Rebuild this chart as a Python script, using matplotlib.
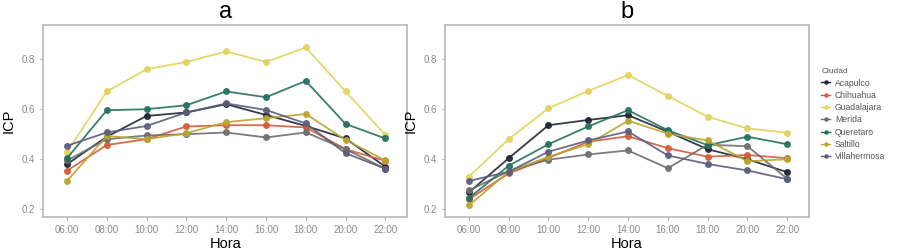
import matplotlib.pyplot as plt
from matplotlib.lines import Line2D

plt.rcParams['font.family'] = ['Liberation Sans', 'DejaVu Sans']

HORAS = ["06:00", "08:00", "10:00", "12:00", "14:00", "16:00", "18:00", "20:00", "22:00"]
CIUDADES = ["Acapulco", "Chihuahua", "Guadalajara", "Merida", "Queretaro", "Saltillo", "Villahermosa"]
COLORES = ["#1e2433", "#d65a3c", "#e2d35e", "#6e6e6e", "#24705e", "#b9a530", "#5b5d7a"]

# panel a
acapulco_a = [0.380, 0.490, 0.573, 0.587, 0.620, 0.577, 0.533, 0.483, 0.370]
chihuahua_a = [0.354, 0.457, 0.480, 0.531, 0.536, 0.536, 0.527, 0.440, 0.393]
guadalajara_a = [0.428, 0.671, 0.760, 0.789, 0.831, 0.789, 0.847, 0.671, 0.497]
merida_a = [0.395, 0.480, 0.495, 0.500, 0.507, 0.487, 0.507, 0.440, 0.362]
queretaro_a = [0.404, 0.596, 0.600, 0.616, 0.671, 0.648, 0.713, 0.541, 0.483]
saltillo_a = [0.313, 0.493, 0.480, 0.504, 0.548, 0.564, 0.581, 0.477, 0.395]
villahermosa_a = [0.454, 0.507, 0.533, 0.587, 0.623, 0.597, 0.543, 0.424, 0.362]

# panel b
acapulco_b = [0.267, 0.404, 0.536, 0.557, 0.576, 0.510, 0.440, 0.400, 0.348]
chihuahua_b = [0.240, 0.343, 0.405, 0.470, 0.492, 0.444, 0.410, 0.417, 0.404]
guadalajara_b = [0.330, 0.480, 0.604, 0.673, 0.737, 0.653, 0.570, 0.523, 0.506]
merida_b = [0.275, 0.352, 0.398, 0.419, 0.435, 0.364, 0.458, 0.452, 0.322]
queretaro_b = [0.244, 0.374, 0.460, 0.531, 0.596, 0.516, 0.456, 0.490, 0.460]
saltillo_b = [0.215, 0.350, 0.410, 0.460, 0.554, 0.502, 0.475, 0.392, 0.400]
villahermosa_b = [0.313, 0.350, 0.430, 0.475, 0.511, 0.415, 0.381, 0.355, 0.320]

panel_a = [acapulco_a, chihuahua_a, guadalajara_a, merida_a, queretaro_a, saltillo_a, villahermosa_a]
panel_b = [acapulco_b, chihuahua_b, guadalajara_b, merida_b, queretaro_b, saltillo_b, villahermosa_b]

fig = plt.figure(figsize=(8.99, 2.52), dpi=100)
ax_a = fig.add_axes([0.048, 0.139, 0.405, 0.762])
ax_b = fig.add_axes([0.495, 0.139, 0.405, 0.762])

x = list(range(len(HORAS)))
for ax, data, title in [(ax_a, panel_a, "a"), (ax_b, panel_b, "b")]:
    for serie, color in zip(data, COLORES):
        ax.plot(x, serie, color=color, lw=1.3, marker="o", ms=4, alpha=0.9)
    ax.set_xlim(-0.6, 8.55)
    ax.set_ylim(0.169, 0.937)
    ax.set_xticks(x)
    ax.set_xticklabels(HORAS)
    ax.set_yticks([0.2, 0.4, 0.6, 0.8])
    ax.set_yticklabels(["0.2", "0.4", "0.6", "0.8"])
    ax.tick_params(colors="#aaaaaa", labelcolor="#8a8a8a", labelsize=7, length=2.5, width=0.8)
    for s in ax.spines.values():
        s.set_color("#bdbdbd")
        s.set_linewidth(1.3)
    ax.set_xlabel("Hora", fontsize=10.5, labelpad=1)
    ax.set_ylabel("ICP", fontsize=10.5, labelpad=4)
    ax.set_title(title, fontsize=17, pad=5)

handles = [Line2D([], [], color=c, lw=1.0, marker="o", ms=2.2) for c in COLORES]
leg = fig.legend(handles, CIUDADES, title="Ciudad", loc="upper left",
                 bbox_to_anchor=(0.905, 0.76), frameon=False, fontsize=6.2,
                 title_fontsize=6, handlelength=1.0, handletextpad=0.6,
                 labelspacing=0.38, labelcolor="#555555")
leg._legend_box.align = "left"
leg.get_title().set_color("#555555")

fig.savefig("out.png", dpi=100)
